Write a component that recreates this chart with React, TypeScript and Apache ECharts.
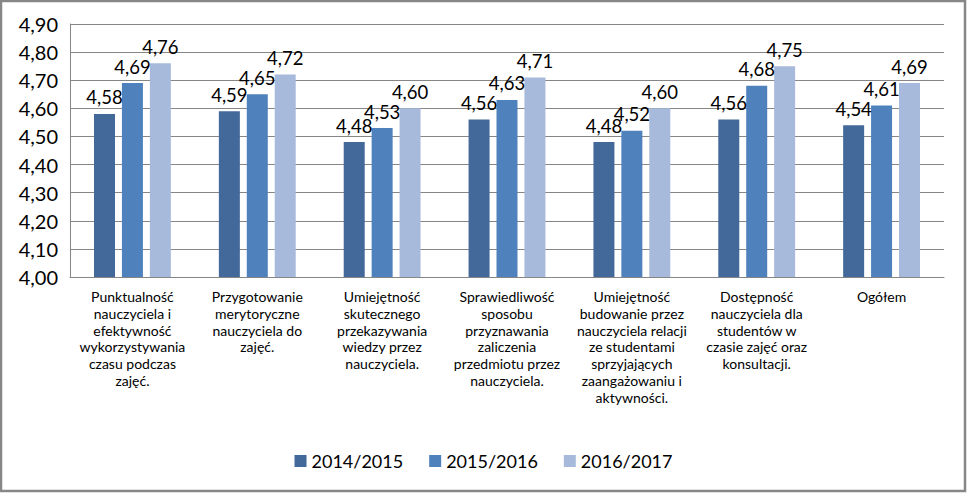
import React, { useEffect, useRef } from "react";
import * as echarts from "echarts";

const categories = [
  "Punktualność\nnauczyciela i\nefektywność\nwykorzystywania\nczasu podczas\nzajęć.",
  "Przygotowanie\nmerytoryczne\nnauczyciela do\nzajęć.",
  "Umiejętność\nskutecznego\nprzekazywania\nwiedzy przez\nnauczyciela.",
  "Sprawiedliwość\nsposobu\nprzyznawania\nzaliczenia\nprzedmiotu przez\nnauczyciela.",
  "Umiejętność\nbudowanie przez\nnauczyciela relacji\nze studentami\nsprzyjających\nzaangażowaniu i\naktywności.",
  "Dostępność\nnauczyciela dla\nstudentów w\nczasie zajęć oraz\nkonsultacji.",
  "Ogółem",
];

const seriesNames = ["2014/2015", "2015/2016", "2016/2017"];
const values2014 = [4.58, 4.59, 4.48, 4.56, 4.48, 4.56, 4.54];
const values2015 = [4.69, 4.65, 4.53, 4.63, 4.52, 4.68, 4.61];
const values2016 = [4.76, 4.72, 4.6, 4.71, 4.6, 4.75, 4.69];
const colors = ["#43699b", "#4f81bd", "#a8badb"];

const FONT = "Lato, 'Open Sans', sans-serif";

export default function App() {
  const ref = useRef<HTMLDivElement>(null);
  useEffect(() => {
    if (!ref.current) return;
    const chart = echarts.init(ref.current, null, { renderer: "svg" });
    const fmt = (v: number) => v.toFixed(2).replace(".", ",");
    const data = [values2014, values2015, values2016];
    chart.setOption({
      animation: false,
      backgroundColor: "#ffffff",
      textStyle: { fontFamily: FONT },
      graphic: [
        {
          type: "rect",
          shape: { x: 1, y: 1, width: 964, height: 490 },
          style: { fill: "none", stroke: "#878787", lineWidth: 2.5 },
          silent: true,
        },
      ],
      legend: {
        data: seriesNames,
        bottom: 18,
        left: "center",
        itemWidth: 12,
        itemHeight: 12,
        itemGap: 26,
        icon: "rect",
        textStyle: { fontSize: 18, color: "#000", fontFamily: FONT },
      },
      grid: { left: 70, right: 23, top: 24, bottom: 216, containLabel: false },
      xAxis: {
        type: "category",
        data: categories,
        axisTick: { show: false },
        axisLine: { lineStyle: { color: "#868686", width: 1 } },
        axisLabel: {
          interval: 0,
          fontSize: 14,
          lineHeight: 16.8,
          color: "#000",
          margin: 11,
          fontFamily: FONT,
        },
      },
      yAxis: {
        type: "value",
        min: 4.0,
        max: 4.9,
        interval: 0.1,
        axisLine: { show: true, lineStyle: { color: "#868686" } },
        axisTick: { show: false },
        splitLine: { lineStyle: { color: "#868686", width: 1 } },
        axisLabel: {
          fontSize: 20,
          color: "#000",
          margin: 12,
          fontFamily: FONT,
          formatter: (v: number) => fmt(v),
        },
      },
      series: seriesNames.map((name, i) => ({
        name,
        type: "bar",
        data: data[i],
        barWidth: 21,
        barGap: "33%",
        itemStyle: { color: colors[i] },
        label: {
          show: true,
          position: "top",
          distance: 7,
          fontSize: 18.5,
          color: "#000",
          fontFamily: FONT,
          formatter: (p: any) => fmt(p.value),
        },
      })),
    });
    return () => chart.dispose();
  }, []);
  return (
    <div
      ref={ref}
      style={{ position: "fixed", left: 0, top: 0, width: 967, height: 493 }}
    />
  );
}
